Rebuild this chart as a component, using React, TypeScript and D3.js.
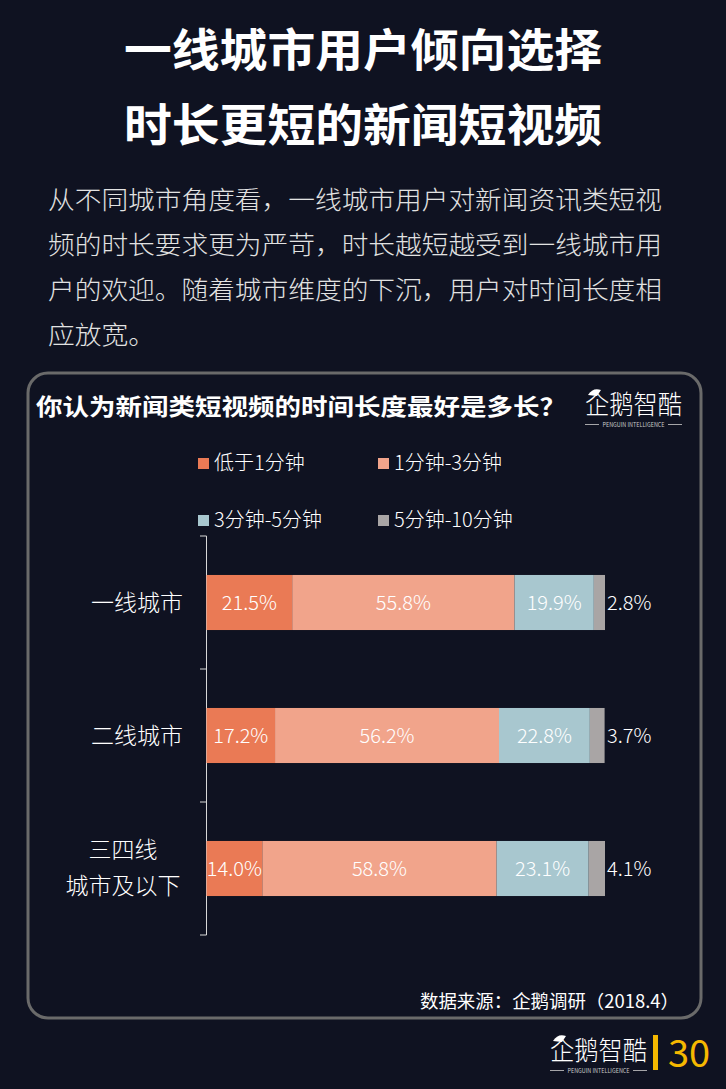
import React from "react";
import * as d3 from "d3";

const categories = ["一线城市", "二线城市", "三四线城市及以下"];
const categoryLines = [["一线城市"], ["二线城市"], ["三四线", "城市及以下"]];
const seriesNames = ["低于1分钟", "1分钟-3分钟", "3分钟-5分钟", "5分钟-10分钟"];
const under1 = [21.5, 17.2, 14.0];
const min1to3 = [55.8, 56.2, 58.8];
const min3to5 = [19.9, 22.8, 23.1];
const min5to10 = [2.8, 3.7, 4.1];
const colors = ["#EA7A55", "#F1A48B", "#A8C7CF", "#A9A5A5"];
const titleLines = ["一线城市用户倾向选择", "时长更短的新闻短视频"];
const paragraph = [
  "从不同城市角度看，一线城市用户对新闻资讯类短视",
  "频的时长要求更为严苛，时长越短越受到一线城市用",
  "户的欢迎。随着城市维度的下沉，用户对时间长度相",
  "应放宽。",
];
const chartTitle = "你认为新闻类短视频的时间长度最好是多长？";
const sourceText = "数据来源：企鹅调研（2018.4）";
const pageNo = "30";

const FONT = "'Noto Sans CJK SC', 'Noto Sans', sans-serif";

const rows = categories.map((c, i) => ({
  cat: c,
  [seriesNames[0]]: under1[i],
  [seriesNames[1]]: min1to3[i],
  [seriesNames[2]]: min3to5[i],
  [seriesNames[3]]: min5to10[i],
}));

function Logo({ x, y }: { x: number; y: number }) {
  return (
    <g transform={`translate(${x},${y})`}>
      <text x={0} y={27} fill="#fff" fontFamily={FONT} fontSize={26} fontWeight={300} textLength={97} lengthAdjust="spacingAndGlyphs">
        企鹅智酷
      </text>
      <path d="M3 8 Q8 0 16 3 L12 9 Z" fill="#fff" />
      <line x1={0} y1={37.5} x2={14} y2={37.5} stroke="#ccc" strokeWidth={0.8} />
      <line x1={83} y1={37.5} x2={97} y2={37.5} stroke="#ccc" strokeWidth={0.8} />
      <text x={48.5} y={40} textAnchor="middle" fill="#ccc" fontFamily={FONT} fontSize={6.5} textLength={62} lengthAdjust="spacingAndGlyphs">
        PENGUIN INTELLIGENCE
      </text>
    </g>
  );
}

export default function App() {
  const W = 726;
  const H = 1089;
  const x = d3.scaleLinear().domain([0, 100]).range([206.5, 605]);
  const y = d3
    .scaleBand<string>()
    .domain(categories)
    .range([536, 935])
    .paddingInner(0.586)
    .paddingOuter(0.293);
  const stacked = d3.stack<any>().keys(seriesNames)(rows as any);
  const ticks = [536, ...categories.map((c) => (y(c) as number) + y.bandwidth() / 2 + y.step() / 2)];

  return (
    <div style={{ position: "absolute", left: 0, top: 0 }}>
      <svg width={W} height={H} style={{ display: "block" }}>
        <rect x={0} y={0} width={W} height={H} fill="#0F1221" />
        {titleLines.map((t, i) => (
          <text key={i} x={363} y={67 + i * 75} textAnchor="middle" fill="#fff" fontFamily={FONT} fontWeight={700} fontSize={45} textLength={478} lengthAdjust="spacingAndGlyphs">
            {t}
          </text>
        ))}
        {paragraph.map((t, i) => (
          <text key={i} x={48} y={209 + i * 45} fill="#E2E2E2" fontFamily={FONT} fontWeight={300} fontSize={25.5} textLength={i < 3 ? 614 : 107} lengthAdjust="spacingAndGlyphs">
            {t}
          </text>
        ))}
        <rect x={28} y={373} width={673} height={645} rx={20} ry={20} fill="none" stroke="#6A6A6A" strokeWidth={3} />
        <text x={36} y={415} fill="#fff" fontFamily={FONT} fontWeight={700} fontSize={23} textLength={530} lengthAdjust="spacingAndGlyphs">
          {chartTitle}
        </text>
        <Logo x={585} y={387} />
        {seriesNames.map((s, i) => {
          const lx = i % 2 === 0 ? 198 : 378;
          const ly = i < 2 ? 463 : 520;
          return (
            <g key={s}>
              <rect x={lx} y={ly - 5} width={11} height={11} fill={colors[i]} />
              <text x={lx + 16} y={ly + 7} fill="#fff" fontFamily={FONT} fontWeight={300} fontSize={20}>
                {s}
              </text>
            </g>
          );
        })}
        <line x1={206.5} y1={536} x2={206.5} y2={935} stroke="#D8D8D8" strokeWidth={1} />
        {ticks.map((t, i) => (
          <line key={i} x1={200} y1={t} x2={206.5} y2={t} stroke="#D8D8D8" strokeWidth={1} />
        ))}
        {categories.map((c, i) => {
          const cy = (y(c) as number) + y.bandwidth() / 2;
          const lines = categoryLines[i];
          if (lines.length === 1)
            return (
              <text key={c} x={183} y={cy + 8} textAnchor="end" fill="#fff" fontFamily={FONT} fontWeight={300} fontSize={23}>
                {lines[0]}
              </text>
            );
          return (
            <g key={c}>
              {lines.map((l, j) => (
                <text key={j} x={123} y={cy - 11 + j * 36} textAnchor="middle" fill="#fff" fontFamily={FONT} fontWeight={300} fontSize={23}>
                  {l}
                </text>
              ))}
            </g>
          );
        })}
        {stacked.map((layer, si) => (
          <g key={si}>
            {layer.map((d, ci) => (
              <rect key={ci} x={x(d[0])} y={y(categories[ci]) as number} width={x(d[1]) - x(d[0])} height={y.bandwidth()} fill={colors[si]} />
            ))}
          </g>
        ))}
        {stacked.map((layer, si) => (
          <g key={"l" + si}>
            {layer.map((d, ci) => {
              const v = (d[1] - d[0]).toFixed(1) + "%";
              const cy = (y(categories[ci]) as number) + y.bandwidth() / 2;
              const last = si === seriesNames.length - 1;
              return (
                <text
                  key={ci}
                  x={last ? x(100) + 2 : (x(d[0]) + x(d[1])) / 2}
                  y={cy + 7}
                  textAnchor={last ? "start" : "middle"}
                  fill="#fff"
                  fontFamily={FONT}
                  fontWeight={300}
                  fontSize={20}
                >
                  {v}
                </text>
              );
            })}
          </g>
        ))}
        <text x={679} y={1008} textAnchor="end" fill="#fff" fontFamily={FONT} fontWeight={400} fontSize={18} textLength={259} lengthAdjust="spacingAndGlyphs">
          {sourceText}
        </text>
        <Logo x={550} y={1033} />
        <rect x={653} y={1035} width={5} height={35} fill="#F5B800" />
        <text x={668} y={1067} fill="#F5B800" fontFamily={FONT} fontWeight={400} fontSize={38}>
          {pageNo}
        </text>
      </svg>
    </div>
  );
}
